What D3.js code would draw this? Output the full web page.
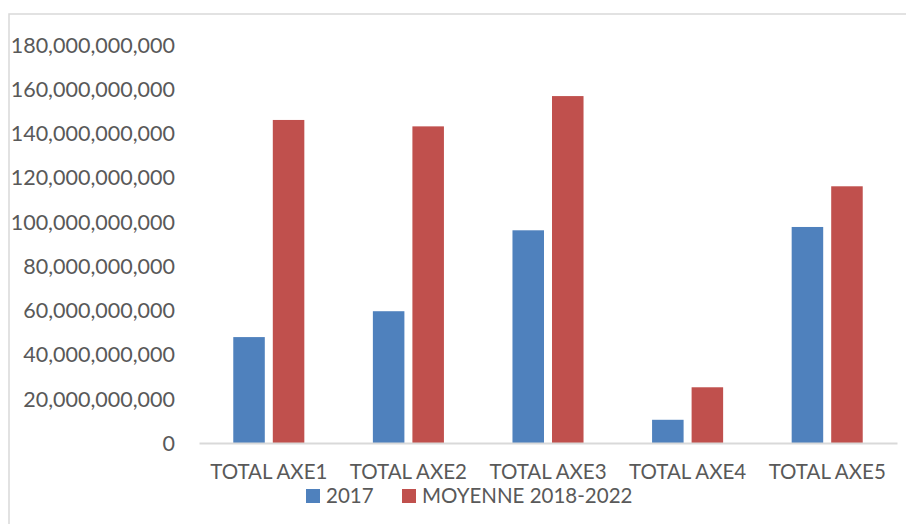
<!DOCTYPE html>
<html>
<head>
<meta charset="utf-8">
<script src="https://cdn.jsdelivr.net/npm/d3@7"></script>
<style>
  html, body { margin: 0; padding: 0; background: #fff; }
  svg { display: block; }
  text { font-family: Lato, "Open Sans", sans-serif; fill: #595959; }
</style>
</head>
<body>
<svg id="chart" width="906" height="524"></svg>
<script>
// Budget totals per axis (in FCFA)
const categories = ["TOTAL AXE1", "TOTAL AXE2", "TOTAL AXE3", "TOTAL AXE4", "TOTAL AXE5"];
const seriesNames = ["2017", "MOYENNE 2018-2022"];
const values2017 = [47.9e9, 59.6e9, 96.2e9, 10.5e9, 97.7e9];
const valuesMoyenne = [146.1e9, 143.2e9, 156.9e9, 25.2e9, 116.1e9];
const yTicks = [0, 20e9, 40e9, 60e9, 80e9, 100e9, 120e9, 140e9, 160e9, 180e9];
const colors = ["#4F81BD", "#C0504D"];

const svg = d3.select("#chart");

// outer chart frame
svg.append("rect")
  .attr("x", 9).attr("y", 14)
  .attr("width", 1000).attr("height", 1000)
  .attr("fill", "none")
  .attr("stroke", "#d9d9d9")
  .attr("stroke-width", 1.5);

const plot = { left: 199, right: 897, top: 45, bottom: 443 };

const y = d3.scaleLinear().domain([0, 180e9]).range([plot.bottom, plot.top]);

const x0 = d3.scaleBand()
  .domain(categories)
  .range([plot.left, plot.right])
  .paddingInner(0.491)
  .paddingOuter(0.2455);

const x1 = d3.scaleBand()
  .domain(seriesNames)
  .range([0, x0.bandwidth()])
  .paddingInner(0.2025);

const rows = categories.map((c, i) => ({
  category: c,
  values: [values2017[i], valuesMoyenne[i]]
}));

// y axis labels (no axis line, no gridlines)
const yAxis = d3.axisLeft(y)
  .tickValues(yTicks)
  .tickFormat(d3.format(","))
  .tickSize(0)
  .tickPadding(0);

const yg = svg.append("g")
  .attr("transform", `translate(175,0)`)
  .call(yAxis);
yg.select(".domain").remove();
yg.selectAll("text")
  .style("font-family", "Lato, 'Open Sans', sans-serif")
  .style("font-size", "21.5px")
  .attr("fill", "#595959")
  .attr("dy", "0.34em");

// bars
const groups = svg.append("g")
  .selectAll("g")
  .data(rows)
  .join("g")
  .attr("transform", d => `translate(${x0(d.category)},0)`);

groups.selectAll("rect")
  .data(d => d.values.map((v, i) => ({ key: seriesNames[i], value: v, i })))
  .join("rect")
  .attr("x", d => x1(d.key))
  .attr("y", d => y(d.value))
  .attr("width", x1.bandwidth())
  .attr("height", d => y(0) - y(d.value))
  .attr("fill", d => colors[d.i]);

// x axis: baseline and category labels
const xAxis = d3.axisBottom(x0).tickSize(0).tickPadding(0);
const xg = svg.append("g")
  .attr("transform", `translate(0,${plot.bottom})`)
  .call(xAxis);
xg.select(".domain")
  .attr("stroke", "#d9d9d9")
  .attr("stroke-width", 2);
xg.selectAll("text")
  .style("font-family", "Lato, 'Open Sans', sans-serif")
  .style("font-size", "20.5px")
  .attr("fill", "#595959")
  .attr("y", 29)
  .attr("dy", "0.34em");

// legend
const legendItems = [
  { name: seriesNames[0], color: colors[0], x: 306 },
  { name: seriesNames[1], color: colors[1], x: 402 }
];
const lg = svg.append("g");
legendItems.forEach(item => {
  lg.append("rect")
    .attr("x", item.x).attr("y", 489)
    .attr("width", 14).attr("height", 14)
    .attr("fill", item.color);
  lg.append("text")
    .attr("x", item.x + 20).attr("y", 496)
    .attr("dy", "0.34em")
    .style("font-size", "20.5px")
    .text(item.name);
});
</script>
</body>
</html>
